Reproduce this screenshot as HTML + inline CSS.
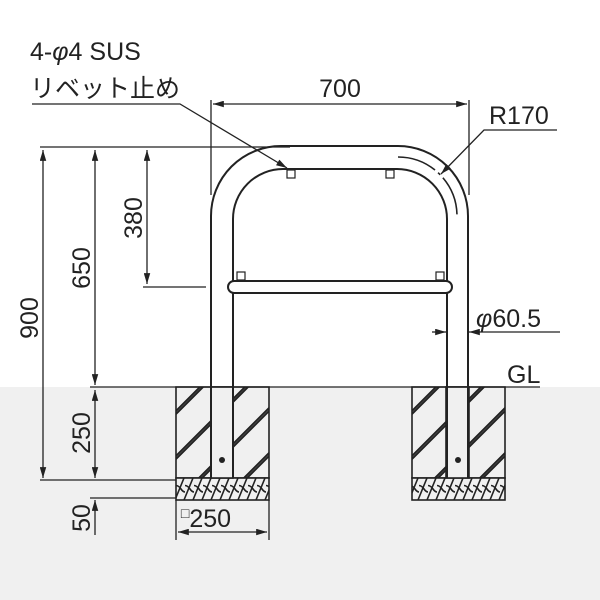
<!DOCTYPE html>
<html><head><meta charset="utf-8"><style>html,body{margin:0;padding:0;width:600px;height:600px;overflow:hidden;background:#fff}svg{display:block}</style></head><body>
<svg width="600" height="600" viewBox="0 0 600 600" xmlns="http://www.w3.org/2000/svg" font-family="Liberation Sans, Noto Sans CJK JP, sans-serif">
<defs>
<marker id="a" viewBox="0 0 10 6" refX="10" refY="3" markerWidth="9" markerHeight="5" orient="auto-start-reverse"><path d="M0,0L10,3L0,6z" fill="#222"/></marker>
<pattern id="x" x="176" y="478" width="9" height="22" patternUnits="userSpaceOnUse">
<rect width="9" height="22" fill="#f0f0f0"/><path d="M-1,22L8,0M8,22L17,0M-5,11 Q0,4 5,11 Q9,17 14,11" stroke="#222" stroke-width="1.6" fill="none"/></pattern>
<clipPath id="c1"><rect x="176" y="387" width="93" height="91"/></clipPath>
<clipPath id="c2"><rect x="412" y="387" width="93" height="91"/></clipPath>
<g id="hl" stroke="#222" stroke-width="2" fill="none">
<path d="M170,417L275,312M170,420L275,315"/>
<path d="M170,462L275,357M170,465L275,360"/>
<path d="M170,507L275,402M170,510L275,405"/>
<path d="M170,552L275,447M170,555L275,450"/>
<path d="M170,597L275,492M170,600L275,495"/>
</g>
</defs>
<rect x="0" y="387" width="600" height="213" fill="#f0f0f0"/>
<g clip-path="url(#c1)"><use href="#hl"/></g>
<g clip-path="url(#c2)"><use href="#hl" transform="translate(236,0)"/></g>
<g stroke="#222" stroke-width="1.6" fill="none">
<rect x="176" y="387" width="93" height="91"/>
<rect x="412" y="387" width="93" height="91"/>
<rect x="176" y="478" width="93" height="22" fill="url(#x)"/>
<rect x="412" y="478" width="93" height="22" fill="url(#x)"/>
<rect x="211" y="387" width="22" height="91" fill="#f0f0f0"/>
<rect x="446" y="387" width="23" height="91" fill="#f0f0f0"/>
<path d="M211,478 V216 A70,70 0 0 1 281,146 H398 A70,70 0 0 1 468,216 V478" stroke-width="2"/>
<path d="M233,478 V219 A50,50 0 0 1 283,169 H397 A50,50 0 0 1 447,219 V478" stroke-width="2"/>
<path d="M398,157 A59,59 0 0 1 457,216" stroke-width="1.6" stroke-dasharray="40,4,3,4,40"/>
<rect x="228" y="281" width="224" height="12" rx="6" fill="#fff" stroke-width="2"/>
<rect x="287" y="170" width="8" height="8" stroke-width="1.2"/>
<rect x="386" y="170" width="8" height="8" stroke-width="1.2"/>
<rect x="237" y="272" width="8" height="8" stroke-width="1.2"/>
<rect x="436" y="272" width="8" height="8" stroke-width="1.2"/>
</g>
<circle cx="222" cy="460" r="3" fill="#222"/><circle cx="458" cy="460" r="3" fill="#222"/>
<g stroke="#222" stroke-width="1.3" fill="none">
<path d="M40,147H290 M143,287H206 M90,387H540 M40,480H176 M90,498H176 M211,100V195 M469,100V195 M176,500V540 M269,500V540"/>
<path d="M43,150V478" marker-start="url(#a)" marker-end="url(#a)"/>
<path d="M95,150V385" marker-start="url(#a)" marker-end="url(#a)"/>
<path d="M147,150V284" marker-start="url(#a)" marker-end="url(#a)"/>
<path d="M95,390V478" marker-start="url(#a)" marker-end="url(#a)"/>
<path d="M95,535V500" marker-end="url(#a)"/>
<path d="M213,104H467" marker-start="url(#a)" marker-end="url(#a)"/>
<path d="M178,532H267" marker-start="url(#a)" marker-end="url(#a)"/>
<path d="M432,332H446" marker-end="url(#a)"/>
<path d="M560,332H469" marker-end="url(#a)"/>
<path d="M32,104H180L287,168" marker-end="url(#a)"/>
<path d="M557,130H484L441,174" marker-end="url(#a)"/>
</g>
<g fill="#222" font-size="25">
<text x="30" y="60">4-<tspan font-style="italic">φ</tspan>4 SUS</text>
<text x="30" y="97">リベット止め</text>
<text x="340" y="97" text-anchor="middle">700</text>
<text x="489" y="124">R170</text>
<text x="476" y="327"><tspan font-style="italic">φ</tspan>60.5</text>
<text x="507" y="383">GL</text>
<text x="206" y="527" text-anchor="middle"><tspan font-size="14" dy="-9">□</tspan><tspan dy="9">250</tspan></text>
<text transform="translate(38,318) rotate(-90)" text-anchor="middle">900</text>
<text transform="translate(90,268) rotate(-90)" text-anchor="middle">650</text>
<text transform="translate(142,218) rotate(-90)" text-anchor="middle">380</text>
<text transform="translate(90,433) rotate(-90)" text-anchor="middle">250</text>
<text transform="translate(90,518) rotate(-90)" text-anchor="middle">50</text>
</g>
</svg>
</body></html>
